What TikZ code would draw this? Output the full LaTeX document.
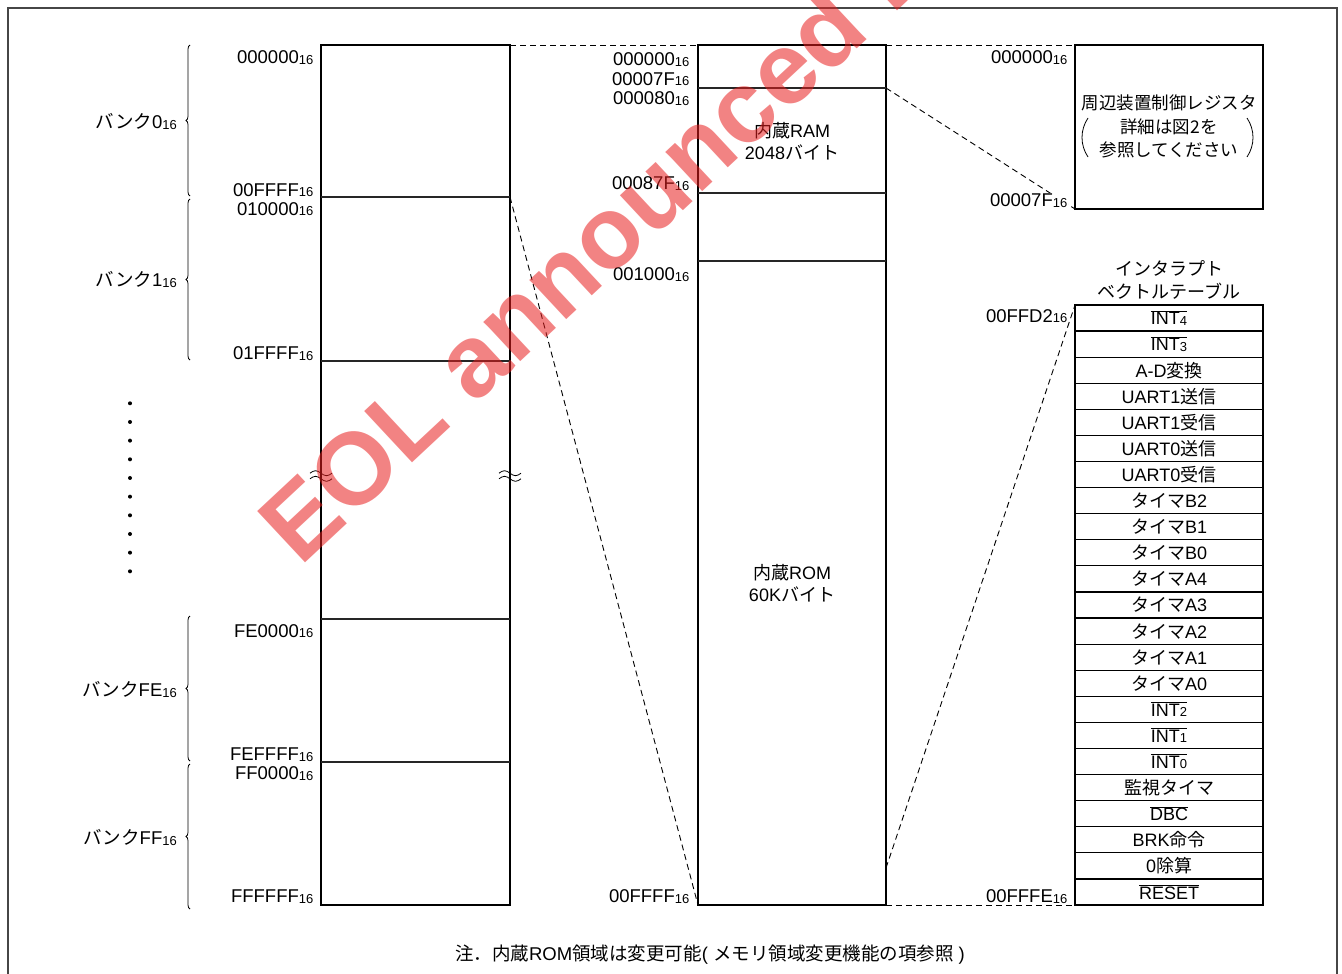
\documentclass[tikz,border=0pt]{standalone}
\usepackage{fontspec}
\setmainfont{Liberation Sans}
\newfontfamily\jp{Noto Sans CJK JP}
\usetikzlibrary{decorations.pathreplacing}
\newcommand\sx[1]{\raisebox{-0.6pt}{\fontsize{13}{13}\selectfont #1}}
\newcommand\ovl[1]{$\overline{\hbox{#1}}$}
\definecolor{wm}{RGB}{232,30,30}
\definecolor{frame}{RGB}{70,70,70}
\begin{document}
\begin{tikzpicture}[x=1pt,y=-1pt,
  box/.style={draw, line width=2.4pt, anchor=north west, inner sep=0pt, outer sep=0pt},
  divider/.style={line width=1.2pt, draw=black!85},
  conn/.style={line width=0.9pt, dash pattern=on 6pt off 4pt},
  addr/.style={anchor=base east, fill=white, inner sep=0.5pt, font=\fontsize{18.5}{18.5}\selectfont},
  lbl/.style={font=\fontsize{18}{22}\selectfont, align=center},
  cell/.style={draw, line width=1.2pt, minimum width=188pt, minimum height=26.087pt, inner sep=0pt, outer sep=0pt, anchor=north west, font=\fontsize{18}{18}\selectfont},
  bracegrp/.style={decorate, decoration={brace, amplitude=4pt}, line width=0.8pt},
  banklbl/.style={anchor=base east, inner sep=0pt, font=\fontsize{18.5}{18.5}\selectfont}
]
\useasboundingbox (0,0) rectangle (1342,974);
\begin{scope}
\clip (0,0) rectangle (1342,974);
% outer frame
\draw[frame, line width=2.2pt] (8,990) -- (8,8) -- (1337,8) -- (1337,990);

% ---------- left column ----------
\node[box, minimum width=189pt, minimum height=860pt] (L) at (321,45) {};
\foreach \yy in {197,361,619,762} \draw[divider] (321,\yy) -- (510,\yy);
\coordinate (l0ffff) at (510,197);

% ---------- middle column ----------
\node[box, minimum width=188pt, minimum height=860pt] (M) at (698,45) {};
\foreach \yy in {88,193,261} \draw[divider] (698,\yy) -- (886,\yy);
\coordinate (m7f) at (886,88);
\coordinate (mffd2) at (886,868);
\node[lbl] (ram) at (792,141) {{\jp 内蔵}RAM\\2048{\jp バイト}};
\node[lbl] (rom) at (792,583) {{\jp 内蔵}ROM\\60K{\jp バイト}};

% ---------- register box ----------
\node[box, minimum width=188pt, minimum height=164pt] (R) at (1075,45) {};
\node[font=\fontsize{17.5}{17.5}\selectfont\jp] (r1) at (1169,103) {周辺装置制御レジスタ};
\node[font=\fontsize{17.5}{17.5}\selectfont\jp] (r2) at (1169,127) {詳細は図2を};
\node[font=\fontsize{17.5}{17.5}\selectfont\jp] (r3) at (1169,150) {参照してください};
\draw[line width=0.8pt] (1088,118) .. controls (1080,130) and (1080,145) .. (1088,157);
\draw[line width=0.8pt] (1247,118) .. controls (1255,130) and (1255,145) .. (1247,157);

% ---------- vector table ----------
\node[lbl, font=\fontsize{18}{23}\selectfont\jp] (vtitle) at (1169,280) {インタラプト\\ベクトルテーブル};
\foreach \t [count=\i] in {
  {\ovl{INT\sx{4}}},{\ovl{INT\sx{3}}},{A-D{\jp 変換}},{UART1{\jp 送信}},{UART1{\jp 受信}},
  {UART0{\jp 送信}},{UART0{\jp 受信}},{{\jp タイマ}B2},{{\jp タイマ}B1},{{\jp タイマ}B0},
  {{\jp タイマ}A4},{{\jp タイマ}A3},{{\jp タイマ}A2},{{\jp タイマ}A1},{{\jp タイマ}A0},
  {\ovl{INT\sx{2}}},{\ovl{INT\sx{1}}},{\ovl{INT\sx{0}}},{{\jp 監視タイマ}},{\ovl{DBC}},
  {BRK{\jp 命令}},{0{\jp 除算}},{\ovl{RESET}}}
  \node[cell] (v\i) at (1075,{305+26.087*(\i-1)}) {\t};
\node[box, minimum width=188pt, minimum height=600pt] (T) at (1075,305) {};

% ---------- dashed connectors ----------
\draw[conn] (L.north east) -- (M.north west);
\draw[conn] (M.north east) -- (R.north west);
\draw[conn] (l0ffff) -- (M.south west);
\draw[conn] (m7f) -- (R.south west);
\draw[conn] (mffd2) -- (T.north west);
\draw[conn] (M.south east) -- (T.south west);

% ---------- address labels ----------
\node[addr] (a1) at (314,63.5) {000000\sx{16}};
\node[addr] (a2) at (314,196) {00FFFF\sx{16}};
\node[addr] (a3) at (314,215) {010000\sx{16}};
\node[addr] (a4) at (314,359.5) {01FFFF\sx{16}};
\node[addr] (a5) at (314,637) {FE0000\sx{16}};
\node[addr] (a6) at (314,760.5) {FEFFFF\sx{16}};
\node[addr] (a7) at (314,779.5) {FF0000\sx{16}};
\node[addr] (a8) at (314,902.5) {FFFFFF\sx{16}};

\node[addr] (b1) at (690,66) {000000\sx{16}};
\node[addr] (b2) at (690,85) {00007F\sx{16}};
\node[addr] (b3) at (690,104.5) {000080\sx{16}};
\node[addr] (b4) at (690,189.5) {00087F\sx{16}};
\node[addr] (b5) at (690,280.5) {001000\sx{16}};
\node[addr] (b6) at (690,902.5) {00FFFF\sx{16}};

\node[addr] (c1) at (1068,63.5) {000000\sx{16}};
\node[addr] (c2) at (1068,206.5) {00007F\sx{16}};
\node[addr] (c3) at (1068,322) {00FFD2\sx{16}};
\node[addr] (c4) at (1068,902.5) {00FFFE\sx{16}};

% ---------- banks ----------
\draw[bracegrp] (190,196) -- (190,45);
\draw[bracegrp] (190,360) -- (190,199);
\draw[bracegrp] (190,761) -- (190,616);
\draw[bracegrp] (190,909) -- (190,764);
\node[banklbl] (k0) at (177,128.5) {{\jp バンク}0\sx{16}};
\node[banklbl] (k1) at (177,286.5) {{\jp バンク}1\sx{16}};
\node[banklbl] (k2) at (177,696.5) {{\jp バンク}FE\sx{16}};
\node[banklbl] (k3) at (177,844.5) {{\jp バンク}FF\sx{16}};

% dots
\foreach \k in {0,...,9} \fill (130,{403.3+18.67*\k}) circle (2);

% break marks
\foreach \cx/\cy in {321/476,510/476} {
  \foreach \dy in {-2.8,2.8}
    \draw[line width=0.8pt] (\cx-11,\cy+\dy) sin (\cx-5.5,\cy+\dy-2.5) cos (\cx,\cy+\dy) sin (\cx+5.5,\cy+\dy+2.5) cos (\cx+11,\cy+\dy);
}

% note
\node[font=\fontsize{18.5}{18.5}\selectfont] (note) at (710,955) {{\jp 注．内蔵}ROM{\jp 領域は変更可能}( {\jp メモリ領域変更機能の項参照} )};

% watermark
\node[anchor=base west, rotate=43, text=wm, opacity=0.55, inner sep=0pt,
  font=\fontsize{102}{102}\selectfont\bfseries] (wmk) at (300,568) {EOL announced Product};
\end{scope}
\end{tikzpicture}
\end{document}
